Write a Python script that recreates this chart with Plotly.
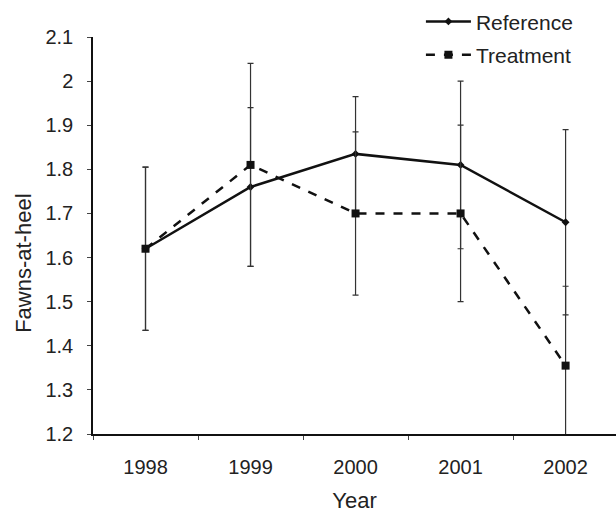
import plotly.graph_objects as go

years = ["1998", "1999", "2000", "2001", "2002"]
reference = [1.62, 1.76, 1.835, 1.81, 1.68]
reference_err = [0.185, 0.18, 0.13, 0.19, 0.21]
treatment = [1.62, 1.81, 1.70, 1.70, 1.355]
treatment_err = [0.185, 0.23, 0.185, 0.20, 0.18]
y_ticks = [1.2, 1.3, 1.4, 1.5, 1.6, 1.7, 1.8, 1.9, 2.0, 2.1]
y_tick_labels = ["1.2", "1.3", "1.4", "1.5", "1.6", "1.7", "1.8", "1.9", "2", "2.1"]

font_family = "Arial, Liberation Sans, sans-serif"

fig = go.Figure()
fig.add_trace(go.Scatter(
    x=years, y=reference, name="Reference", mode="lines+markers",
    legendgroup="ref",
    line=dict(color="#111111", width=2.5),
    marker=dict(symbol="diamond", size=6, color="#111111"),
    error_y=dict(type="data", array=reference_err, visible=True,
                 color="#333333", thickness=1.2, width=3),
))
fig.add_trace(go.Scatter(
    x=years, y=treatment, name="Treatment", mode="lines+markers",
    legendgroup="trt",
    line=dict(color="#111111", width=2.5, dash="dash"),
    marker=dict(symbol="square", size=8, color="#111111"),
    error_y=dict(type="data", array=treatment_err, visible=True,
                 color="#333333", thickness=1.2, width=3),
))

fig.update_layout(
    width=616, height=513,
    margin=dict(l=93, r=0, t=37, b=79),
    paper_bgcolor="white", plot_bgcolor="white",
    font=dict(family=font_family, size=20, color="#222222"),
    showlegend=True,
    legend=dict(x=0.627, y=1.09, xanchor="left", yanchor="top",
                font=dict(size=21), bgcolor="rgba(0,0,0,0)",
                itemwidth=45, traceorder="grouped", tracegroupgap=3),
    annotations=[dict(
        text="Fawns-at-heel", textangle=-90, showarrow=False,
        xref="paper", yref="paper", x=-0.132, y=0.431,
        xanchor="center", yanchor="middle", font=dict(size=22),
    )],
)
fig.update_xaxes(
    type="category", range=[-0.5, 4.48],
    showline=True, linecolor="#111111", linewidth=1.5,
    showgrid=False, zeroline=False,
    ticks="outside", tickson="boundaries", ticklen=4, tickcolor="#444444",
    tickfont=dict(size=20), ticklabelstandoff=14,
    title=dict(text="Year", font=dict(size=22), standoff=18),
)
fig.update_yaxes(
    range=[1.2, 2.1],
    tickvals=y_ticks, ticktext=y_tick_labels,
    showline=True, linecolor="#111111", linewidth=1.5,
    showgrid=False, zeroline=False,
    ticks="outside", ticklen=4, tickcolor="#444444",
    tickfont=dict(size=20), ticklabelstandoff=10,
)

fig.write_html("out.html")
